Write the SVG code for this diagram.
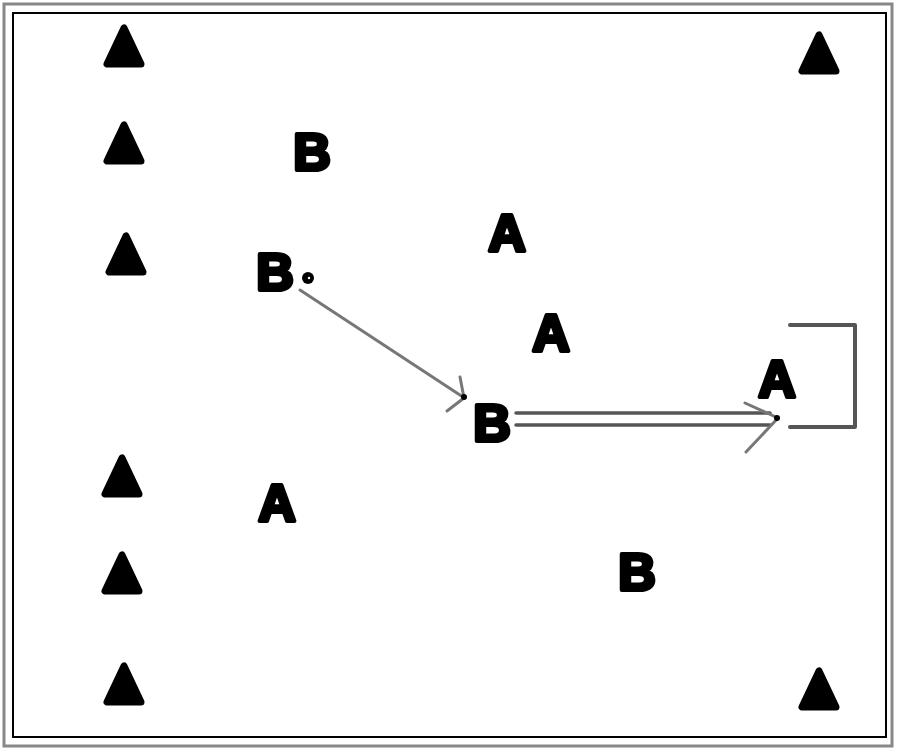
<svg xmlns="http://www.w3.org/2000/svg" width="900" height="752" viewBox="0 0 900 752">
<style>
.tri{fill:#000;stroke:#000;stroke-width:7;stroke-linejoin:round}
.lt{font-family:"Liberation Sans",Arial,sans-serif;font-weight:bold;font-size:52px;fill:#000;stroke:#000;stroke-width:4;stroke-linejoin:round;text-anchor:middle}
.ln{fill:none;stroke:#777;stroke-width:3;stroke-linecap:round;stroke-linejoin:round}
.dl{fill:none;stroke:#555;stroke-width:3.5;stroke-linecap:round;stroke-linejoin:round}
</style>
<defs>
<polygon id="tri" points="0,-19 -17,17 17,17"/>
</defs>
<rect x="0" y="0" width="900" height="752" fill="#fff"/>
<rect x="4" y="4" width="888" height="742" fill="none" stroke="#888" stroke-width="3"/>
<rect x="13" y="13" width="873" height="724" fill="none" stroke="#000" stroke-width="2"/>
<g id="cones">
<use href="#tri" class="tri" x="124" y="47"/>
<use href="#tri" class="tri" x="124" y="144"/>
<use href="#tri" class="tri" x="126" y="255"/>
<use href="#tri" class="tri" x="122" y="477"/>
<use href="#tri" class="tri" x="122" y="574"/>
<use href="#tri" class="tri" x="124" y="685"/>
<use href="#tri" class="tri" x="819" y="54"/>
<use href="#tri" class="tri" x="819" y="690"/>
</g>
<g id="connectors">
<line class="ln" x1="300" y1="290" x2="463" y2="397"/>
<polyline class="ln" points="460,377 464,398 447,411"/>
<circle cx="464" cy="397" r="3" fill="#000"/>
<line class="dl" x1="516" y1="413" x2="770" y2="413"/>
<line class="dl" x1="516" y1="425" x2="770" y2="425"/>
<polyline class="ln" points="745,403 778,418 746,452"/>
<circle cx="777" cy="418" r="3" fill="#000"/>
<polyline class="dl" style="stroke-width:4" points="790,325 855,325 855,427 790,427"/>
</g>
<g id="B1"><text class="lt" x="312" y="170">B</text></g>
<g id="A1"><text class="lt" x="507" y="251">A</text></g>
<g id="B2"><text class="lt" x="275" y="290">B</text><circle cx="308" cy="278" r="6" fill="#000"/><circle cx="309" cy="278" r="1.2" fill="#fff"/></g>
<g id="A2"><text class="lt" x="551" y="351">A</text></g>
<g id="A3"><text class="lt" x="777" y="397">A</text></g>
<g id="B3"><text class="lt" x="492" y="441">B</text></g>
<g id="A4"><text class="lt" x="277" y="521">A</text></g>
<g id="B4"><text class="lt" x="637" y="590">B</text></g>
</svg>
